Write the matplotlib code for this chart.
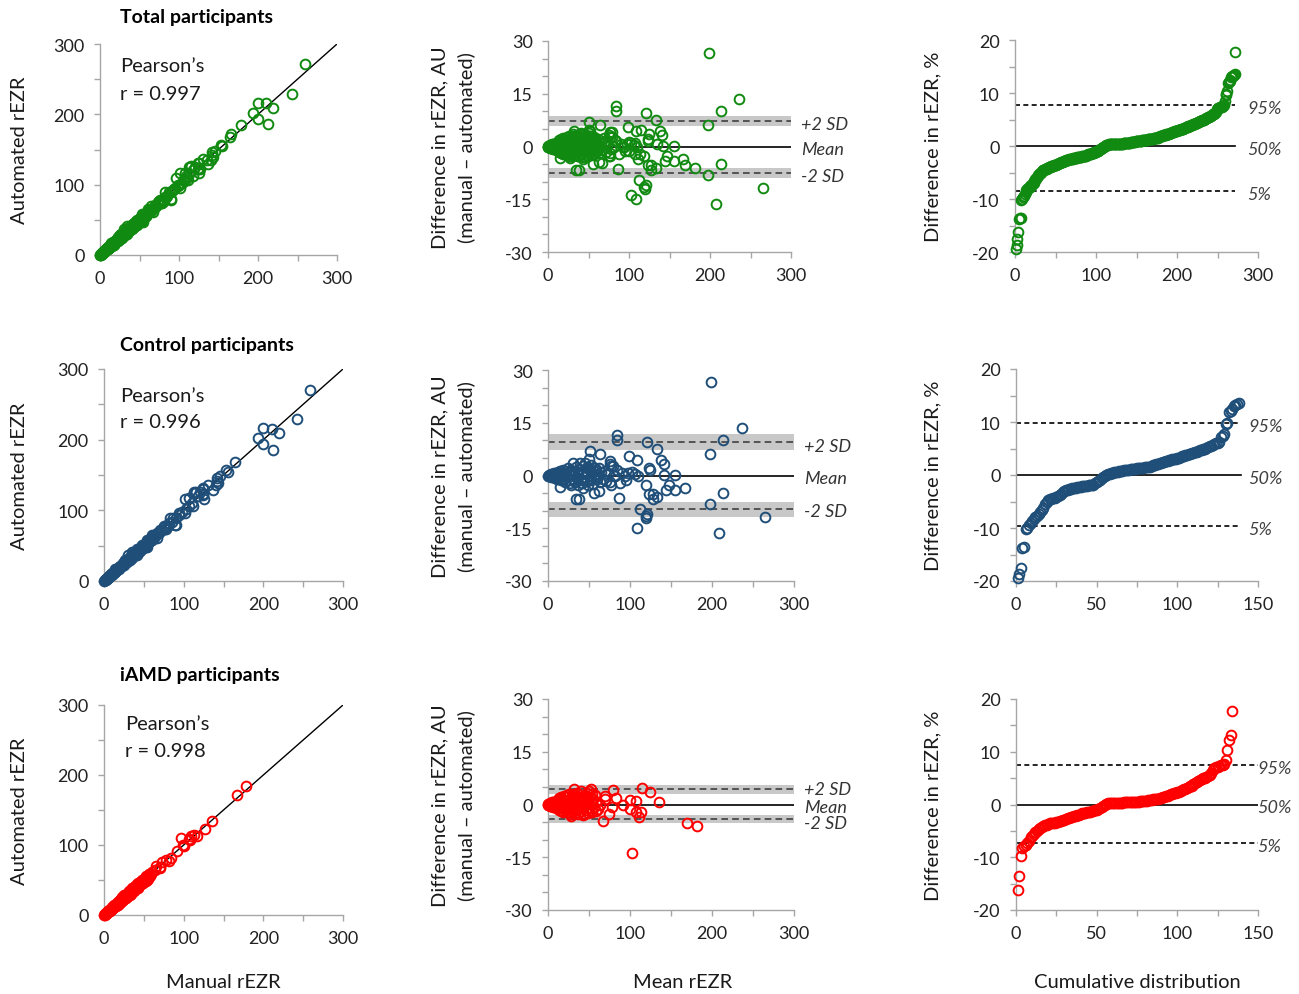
import numpy as np
import matplotlib
matplotlib.use('Agg')
import matplotlib.pyplot as plt
from matplotlib.ticker import MultipleLocator

plt.rcParams['font.family'] = ['Lato', 'DejaVu Sans']
plt.rcParams['axes.unicode_minus'] = False

# Bland-Altman points for control eyes: (mean rEZR, manual - automated)
ctrl_ba = np.array([
    (199, 26.5), (236, 13.5), (214, 10.2), (197, 6.0), (198, -8.2), (213, -5.1), (208, -16.3), (265, -11.8),
    (84.5, 11.4), (84.5, 10.2), (121, 9.5), (133, 7.4), (98.6, 5.5), (109, 4.4), (138, 4.5), (141, 3.3),
    (123, 2.2), (124, 1.7), (155, 0.1), (142, 0.1), (166.5, -3.5), (155, -4.0), (147, -2.8), (144, -4.0),
    (133, -6.1), (127.5, -5.4), (127.5, -6.8), (123, -5.4), (119, -2.8), (112, -9.5), (109, -14.9),
    (119, -11.6), (121, -11.0), (119.5, -12.0), (86, -6.4), (51, 6.9), (64, 6.2), (50, 4.8), (76, 4.1),
    (79, 2.8), (77, 2.8), (76, -1.9), (56, -4.9), (62.5, -4.5), (34, -6.8), (38, -6.6), (43, -3.5),
    (15, -3.2), (28, -2.6), (90, 0.8), (94, -0.2), (98, 0.8), (103, 0.9), (106, 0.3), (110, -0.2),
    (88, -2.1), (95, -1.3), (84, 1.5), (82, -0.2),
    (0.5, 0.0), (1, 0.1), (1.5, -0.1), (2, 0.2), (2.5, -0.2), (3, 0.1), (3.5, 0.3), (4, -0.3), (4.5, 0.0),
    (5, 0.4), (5.5, -0.4), (6, 0.2), (7, -0.5), (7.5, 0.6), (8, 0.1), (9, -0.7), (9.5, 0.8), (10, 0.3),
    (11, -1.0), (12, 0.9), (13, 0.4), (14, -0.6), (15, 1.2), (16, -1.4), (17, 0.2), (18, 1.6), (19, -0.9),
    (20, 0.6), (21, -1.8), (22, 1.3), (23, -0.2), (24, 2.0), (25, -1.2),
    (26, 0.8), (27, -2.2), (28, 1.7), (29, 0.1), (30, -1.0), (31, 3.6), (32, 1.1), (33, -1.9), (34, 2.4),
    (35, -0.6), (36, 0.5), (37, -2.8), (38, 1.9), (39, 3.6), (40, -1.3), (41, 0.9), (42, -2.1), (43, 2.7),
    (44, -0.4), (45, 3.6),
    (46, 1.4), (47, -1.7), (47.5, 2.5), (48, 0.3), (49, -2.6), (50, 1.8), (51, -0.8), (52, 2.9), (53, -1.4),
    (54, 0.7), (55, -2.3), (56, 1.2), (57, 2.2), (58, -0.5), (59, 1.6), (60, -1.1), (61, 0.4), (62, 2.0),
    (63, -1.9), (65, 0.9), (67, -0.9), (69, 1.3), (71, -1.6), (73, 0.5), (75, 3.3), (77, -2.6),
])

# Bland-Altman points for iAMD eyes
amd_ba = np.array([
    (103, -13.8), (169, -5.3), (181.5, -6.0), (115, 4.6), (124.6, 3.5), (135, 0.85), (99.5, 1.3),
    (107.6, 0.9), (92, -0.1), (99.5, -1.2), (107.6, -2.0), (111, -3.6), (113.5, -2.0), (67, -4.7),
    (74.7, -2.6), (79, 4.0), (78, -0.8), (69, 2.4), (70, 1.6), (83, 1.9), (64, 0.0), (32, 4.4), (52, 4.3),
    (27, -2.6), (44, -2.6),
    (0.3, 0.0), (0.6, 0.1), (0.9, -0.1), (1.2, 0.0), (1.5, 0.2), (1.8, -0.2), (2.1, 0.1), (2.4, -0.3),
    (2.7, 0.3), (3.0, 0.0), (3.3, -0.4), (3.6, 0.4), (3.9, 0.1), (4.2, -0.2), (4.5, 0.5), (4.8, -0.5),
    (5.1, 0.2), (5.4, 0.6), (5.7, -0.1), (6.0, -0.6), (6.3, 0.3), (6.6, 0.7), (6.9, -0.3), (7.2, 0.1),
    (7.5, -0.7), (7.8, 0.8), (8.1, 0.4), (8.7, -0.8), (9.3, 0.5), (9.9, -0.4),
    (10.5, 1.0), (11, -1.1), (11.5, 0.2), (12, 1.4), (12.5, -0.6), (13, 0.7), (13.5, -1.5), (14, 1.8),
    (14.5, -0.2), (15, 0.9), (15.5, -1.8), (16, 2.2), (16.5, 0.3), (17, -1.0), (17.5, 1.5), (18, -2.0),
    (18.5, 0.6), (19, 2.4), (19.5, -0.7), (20, 1.1), (20.5, -1.6), (21, 0.0), (21.5, 2.0), (22, -1.2),
    (22.5, 0.8), (23, 2.6), (23.5, -0.3), (24, -2.2), (24.5, 1.3), (25, 0.4),
    (25.5, -1.4), (26, 2.9), (26.5, 0.6), (27.5, -3.2), (28, 1.7), (28.5, -0.9), (29, 2.3), (29.5, -2.0),
    (30, 0.3), (30.5, 3.1), (31, -1.2), (32, 1.4), (33, -2.4), (33.5, 2.7), (34, 0.0), (35, -1.6),
    (35.5, 3.4), (36, 1.0), (37, -2.8), (37.5, 2.1), (38, -0.5), (39, 1.6), (40, -1.9), (40.5, 3.7),
    (41, 0.7), (42, -1.1), (42.5, 2.5), (43, -3.0), (44.5, 1.2), (45, -0.2),
    (46, 2.0), (46.5, -1.7), (47, 3.3), (48, 0.4), (48.5, -2.5), (49, 1.5), (50, -0.9), (50.5, 3.9),
    (51, 2.2), (52, -1.5), (53, 0.9), (53.5, 3.0), (54, -2.1), (55, 1.7), (56, -0.6), (57, 2.6),
    (58, -1.8), (59, 0.8), (61, -1.3),
])

# sorted percentage differences (cumulative distribution)
ctrl_pct = [-19.5, -18.6, -17.6, -13.8, -13.5, -10.2, -10.0, -9.4, -9.0, -8.6,
            -8.3, -8.0, -7.7, -7.3, -7.0, -6.6, -6.2, -5.5, -5.0, -4.8,
            -4.6, -4.5, -4.4, -4.3, -4.1, -4.0, -3.8, -3.5, -3.2, -3.0,
            -2.9, -2.8, -2.7, -2.6, -2.5, -2.45, -2.4, -2.3, -2.25, -2.2,
            -2.15, -2.1, -2.05, -2.0, -1.95, -1.9, -1.85, -1.8, -1.6, -1.4,
            -1.2, -0.9, -0.6, -0.3, -0.1, 0.0, 0.1, 0.2, 0.3, 0.4,
            0.5, 0.55, 0.6, 0.7, 0.75, 0.8, 0.85, 0.9, 0.95, 1.0,
            1.05, 1.1, 1.15, 1.2, 1.25, 1.3, 1.3, 1.35, 1.4, 1.45,
            1.5, 1.55, 1.6, 1.7, 1.8, 1.9, 2.0, 2.1, 2.2, 2.3,
            2.4, 2.5, 2.6, 2.7, 2.8, 2.9, 3.0, 3.05, 3.1, 3.2,
            3.3, 3.4, 3.5, 3.6, 3.7, 3.8, 3.9, 4.0, 4.1, 4.2,
            4.3, 4.4, 4.6, 4.7, 4.8, 4.9, 5.0, 5.1, 5.2, 5.4,
            5.5, 5.6, 5.8, 6.0, 6.1, 6.3, 7.2, 7.4, 7.7, 9.6,
            9.8, 11.8, 12.1, 12.5, 13.0, 13.2, 13.4, 13.5]
amd_pct = [-16.3, -13.5, -9.7, -8.2, -7.9, -7.6, -7.3, -6.9, -6.2, -5.9,
           -5.6, -5.3, -5.0, -4.6, -4.4, -4.2, -4.0, -3.9, -3.8, -3.7,
           -3.6, -3.55, -3.5, -3.45, -3.4, -3.3, -3.2, -3.1, -3.0, -2.9,
           -2.7, -2.6, -2.5, -2.4, -2.3, -2.2, -2.1, -2.0, -1.9, -1.8,
           -1.7, -1.6, -1.55, -1.5, -1.45, -1.4, -1.3, -1.2, -1.1, -1.0,
           -0.9, -0.7, -0.5, -0.3, -0.1, 0.1, 0.2, 0.3, 0.3, 0.3,
           0.3, 0.3, 0.32, 0.35, 0.35, 0.35, 0.38, 0.4, 0.4, 0.4,
           0.42, 0.45, 0.45, 0.5, 0.5, 0.55, 0.6, 0.6, 0.65, 0.7,
           0.75, 0.8, 0.85, 0.9, 0.95, 1.0, 1.05, 1.1, 1.2, 1.3,
           1.4, 1.5, 1.6, 1.7, 1.8, 1.9, 2.0, 2.1, 2.2, 2.3,
           2.45, 2.6, 2.75, 2.9, 3.0, 3.15, 3.3, 3.45, 3.6, 3.8,
           4.0, 4.2, 4.4, 4.6, 4.8, 5.0, 5.1, 5.2, 5.4, 5.6,
           6.0, 6.5, 7.0, 7.1, 7.2, 7.3, 7.4, 7.5, 7.6, 8.5,
           10.3, 12.3, 13.2, 17.8]

# limits of agreement [lower, mean, upper] and their CI half width
tot_loa, tot_ci = [-7.5, 0.0, 7.3], 1.4
ctrl_loa, ctrl_ci = [-9.6, 0.0, 9.5], 2.2
amd_loa, amd_ci = [-4.2, 0.0, 4.3], 1.2
# 5th, 50th, 95th percentiles of % difference
tot_pctl = [-8.55, 0.0, 7.7]
ctrl_pctl = [-9.6, 0.0, 9.75]
amd_pctl = [-7.3, 0.0, 7.5]

pearson = ['0.997', '0.996', '0.998']
titles = ['Total participants', 'Control participants', 'iAMD participants']
colors = ['#118a11', '#1f4e79', '#ff0000']

tot_ba = np.vstack([ctrl_ba, amd_ba])
tot_pct = sorted(ctrl_pct + amd_pct)

W, H = 1299, 995
fig = plt.figure(figsize=(W / 100, H / 100), dpi=100)


def px_axes(l, t, r, b):
    return fig.add_axes([l / W, 1 - b / H, (r - l) / W, (b - t) / H])


def style(ax, xmaj, xmin_, ymaj, ymin_):
    for s in ['top', 'right']:
        ax.spines[s].set_visible(False)
    for s in ['left', 'bottom']:
        ax.spines[s].set_color('#a6a6a6')
        ax.spines[s].set_linewidth(1.0)
    ax.xaxis.set_major_locator(MultipleLocator(xmaj))
    ax.xaxis.set_minor_locator(MultipleLocator(xmin_))
    ax.yaxis.set_major_locator(MultipleLocator(ymaj))
    ax.yaxis.set_minor_locator(MultipleLocator(ymin_))
    ax.tick_params(which='both', direction='out', length=4, width=1, color='#a6a6a6')
    ax.tick_params(which='major', labelsize=13, labelcolor='#222222', pad=7)


rows = [(tot_ba, tot_pct, tot_loa, tot_ci, tot_pctl),
        (ctrl_ba, ctrl_pct, ctrl_loa, ctrl_ci, ctrl_pctl),
        (amd_ba, amd_pct, amd_loa, amd_ci, amd_pctl)]

left_rects = [(100, 45, 337, 256), (104, 370, 343, 582), (104, 706, 343, 916)]
mid_rects = [(548, 42, 791, 253), (548, 371, 794, 582), (548, 700, 794, 911)]
right_rects = [(1015, 41, 1258, 253), (1016, 370, 1258, 582), (1016, 700, 1258, 911)]
title_y = [17, 346, 675]
pear_xy = [(120, 67), (120, 396), (125, 725)]
cum_xmax = [300, 150, 150]
cum_line_end = [0.905, 0.93, 1.0]
cum_label_x = [0.955, 0.96, 0.998]
ba_label_dy = [(-2, -2, -2), (-3, -2, -1), (0, -2, -3)]

for i, (ba, pct, loa, ci, pctl) in enumerate(rows):
    col = colors[i]
    mean, diff = ba[:, 0], ba[:, 1]
    manual = mean + diff / 2
    auto = mean - diff / 2

    # correlation
    ax = px_axes(*left_rects[i])
    ax.plot([0, 300], [0, 300], color='black', lw=1.0, zorder=2)
    ax.plot(manual, auto, 'o', mfc='none', mec=col, ms=7, mew=1.4, clip_on=False, zorder=3)
    ax.set_xlim(0, 300)
    ax.set_ylim(0, 300)
    style(ax, 100, 50, 100, 50)
    pl = left_rects[i]
    fig.text(20 / W, 1 - (pl[1] + pl[3]) / 2 / H, 'Automated rEZR', rotation=90,
             ha='center', va='center', fontsize=14.5, color='#1a1a1a')
    fig.text(120 / W, 1 - title_y[i] / H, titles[i], fontsize=14, fontweight='bold',
             ha='left', va='center')
    px, py = pear_xy[i]
    fig.text(px / W, 1 - py / H, 'Pearson’s', fontsize=14.5, ha='left', va='center', color='#1a1a1a')
    fig.text(px / W, 1 - (py + 27) / H, 'r = ' + pearson[i], fontsize=14.5, ha='left', va='center',
             color='#1a1a1a')

    # Bland-Altman
    ax = px_axes(*mid_rects[i])
    for v in (loa[0], loa[2]):
        ax.axhspan(v - ci, v + ci, color='#c8c8c8', lw=0, zorder=1)
        ax.axhline(v, color='#404040', lw=1.2, ls=(0, (4, 2.5)), zorder=2)
    ax.axhline(loa[1], color='black', lw=1.2, zorder=2)
    ax.plot(mean, diff, 'o', mfc='none', mec=col, ms=7, mew=1.4, clip_on=False, zorder=3)
    ax.set_xlim(0, 300)
    ax.set_ylim(-30, 30)
    style(ax, 100, 50, 15, 5)
    tr = ax.get_yaxis_transform()
    for txt, yv, dy in zip(['+2 SD', 'Mean', '-2 SD'], [loa[2], loa[1], loa[0]], ba_label_dy[i]):
        ax.annotate(txt, xy=(1.04, yv), xycoords=tr, xytext=(0, dy), textcoords='offset points',
                    fontsize=13, fontstyle='italic', color='#333333', ha='left', va='center',
                    annotation_clip=False)
    pm = mid_rects[i]
    fig.text(440 / W, 1 - (pm[1] + pm[3]) / 2 / H, 'Difference in rEZR, AU', rotation=90,
             ha='center', va='center', fontsize=14.5, color='#1a1a1a')
    fig.text(466 / W, 1 - (pm[1] + pm[3]) / 2 / H, '(manual – automated)', rotation=90,
             ha='center', va='center', fontsize=14.5, color='#1a1a1a')

    # cumulative distribution
    ax = px_axes(*right_rects[i])
    xe = cum_line_end[i] * cum_xmax[i]
    ax.plot([0, xe], [pctl[0], pctl[0]], color='black', lw=1.2, ls=(0, (3, 2)), zorder=2)
    ax.plot([0, xe], [pctl[2], pctl[2]], color='black', lw=1.2, ls=(0, (3, 2)), zorder=2)
    ax.plot([0, xe], [pctl[1], pctl[1]], color='black', lw=1.2, zorder=2)
    ax.plot(np.arange(1, len(pct) + 1), pct, 'o', mfc='none', mec=col, ms=7, mew=1.4,
            clip_on=False, zorder=3)
    ax.set_xlim(0, cum_xmax[i])
    ax.set_ylim(-20, 20)
    style(ax, cum_xmax[i] / 3, cum_xmax[i] / 6, 10, 5)
    tr = ax.get_yaxis_transform()
    for txt, yv in zip(['95%', '50%', '5%'], [pctl[2], pctl[1], pctl[0]]):
        ax.annotate(txt, xy=(cum_label_x[i], yv), xycoords=tr, xytext=(0, -2),
                    textcoords='offset points', fontsize=13, fontstyle='italic',
                    color='#404040', ha='left', va='center', annotation_clip=False)
    pr = right_rects[i]
    fig.text(933 / W, 1 - (pr[1] + pr[3]) / 2 / H, 'Difference in rEZR, %', rotation=90,
             ha='center', va='center', fontsize=14.5, color='#1a1a1a')

fig.text(223 / W, 1 - 983 / H, 'Manual rEZR', ha='center', va='center', fontsize=14.5, color='#1a1a1a')
fig.text(683 / W, 1 - 983 / H, 'Mean rEZR', ha='center', va='center', fontsize=14.5, color='#1a1a1a')
fig.text(1137 / W, 1 - 983 / H, 'Cumulative distribution', ha='center', va='center', fontsize=14.5,
         color='#1a1a1a')

fig.savefig('out.png', dpi=100)
